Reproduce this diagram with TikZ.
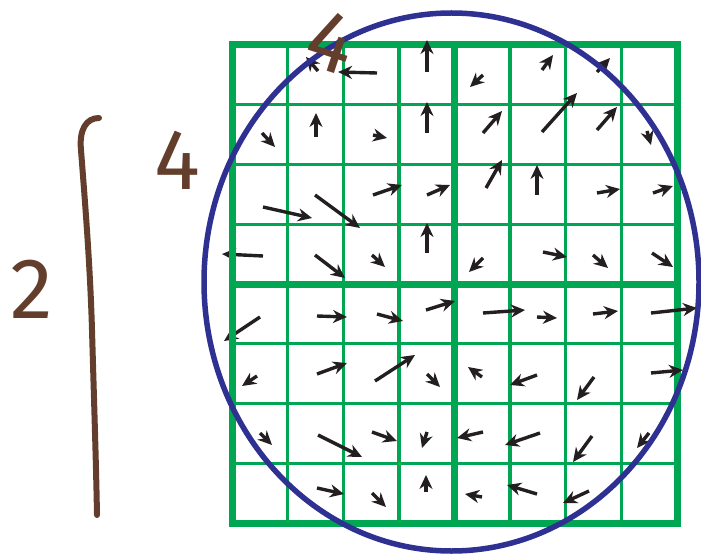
\documentclass[tikz,border=0pt]{standalone}
\usepackage{fontspec}
\newfontfamily\handfont{Fira Sans}
\usetikzlibrary{arrows.meta}
\definecolor{gridgreen}{RGB}{0,166,81}
\definecolor{ringblue}{RGB}{46,49,146}
\definecolor{inkbrown}{RGB}{99,62,44}
\definecolor{vecblack}{RGB}{35,31,32}
\begin{document}
\begin{tikzpicture}[x=1pt, y=-1pt,
    vec/.style={vecblack, line width=3.4pt, -{Stealth[length=14pt,width=13pt]}},
    gridthin/.style={gridgreen, line width=3.4pt},
    gridthick/.style={gridgreen, line width=7pt},
    digit/.style={inkbrown, font=\handfont\fontsize{86}{86}\selectfont, inner sep=0pt}]
                \useasboundingbox (0,0) rectangle (701,556);
                % arrows whose heads sit under the left border
                \draw[vec] (263,256) -- (222,254);
                \draw[vec] (260,317) -- (224,341);

                \foreach \c in {1,2,3,5,6,7} \draw[gridthin] (232+\c*55.625,45) -- (232+\c*55.625,523);
                \foreach \r in {1,2,3,5,6,7} \draw[gridthin] (232,45+\r*59.75) -- (677,45+\r*59.75);
                \draw[gridthick] (232,45) rectangle (677,523);
                \draw[gridthick] (454.5,45) -- (454.5,523);
                \draw[gridthick] (232,284) -- (677,284);

                \foreach \ax/\ay/\bx/\by in {
                    318/71/306/57, 377/73/338/72, 427/72/427/40,
                    262/133/275/147, 316/137/316/113, 373/135/387/138, 427/133/427/102,
                    373/195/402/185, 427/195/450/185, 263/207/312/218, 315/195/360/228,
                    315/255/345/278, 372/255/385/267, 427/253/427/223,
                    483/75/470/87, 542/70/553/55, 597/72/610/58,
                    483/133/502/111, 542/132/577/93, 597/130/617/107, 647/131/651/145,
                    486/188/502/160, 537/195/537/165, 597/193/620/189, 653/193/673/186,
                    483/258/469/272, 543/252/567/257, 593/255/608/268, 652/253/673/267,
                    317/316/347/317, 377/314/403/321, 426/310/455/301,
                    257/376/242/386, 317/374/347/363, 375/381/415/355, 427/374/440/387,
                    260/433/272/445, 318/435/362/457, 372/432/397/441, 427/432/422/448,
                    317/488/344/494, 372/493/386/507, 426/492/426/475,
                    483/313/525/310, 537/317/557/318, 593/314/618/311, 651/313/697/308,
                    482/377/468/367, 537/375/510/385, 594/377/577/400, 651/373/683/370,
                    483/432/457/438, 540/433/505/445, 592/436/573/462, 649/433/637/448,
                    482/497/465/494, 537/494/507/485, 589/491/563/503}
                    \draw[vec] (\ax,\ay) -- (\bx,\by);

                \draw[ringblue, line width=5.5pt] (451.5,282) ellipse (247.5 and 269);

                % hand-written sizes
                \node[digit, rotate=-18] (topfour) at (331,42) {4};
                \node[digit] (sidefour) at (177,160) {4};
                \node[digit] (twolabel) at (32,289) {2};
                \draw[inkbrown, line width=6pt, line cap=round]
                    (99,118) .. controls (86,118) and (79,130) .. (81,150)
                    .. controls (84,190) and (90,260) .. (92,330)
                    .. controls (94,400) and (96,460) .. (97,515);
            \end{tikzpicture}
\end{document}
